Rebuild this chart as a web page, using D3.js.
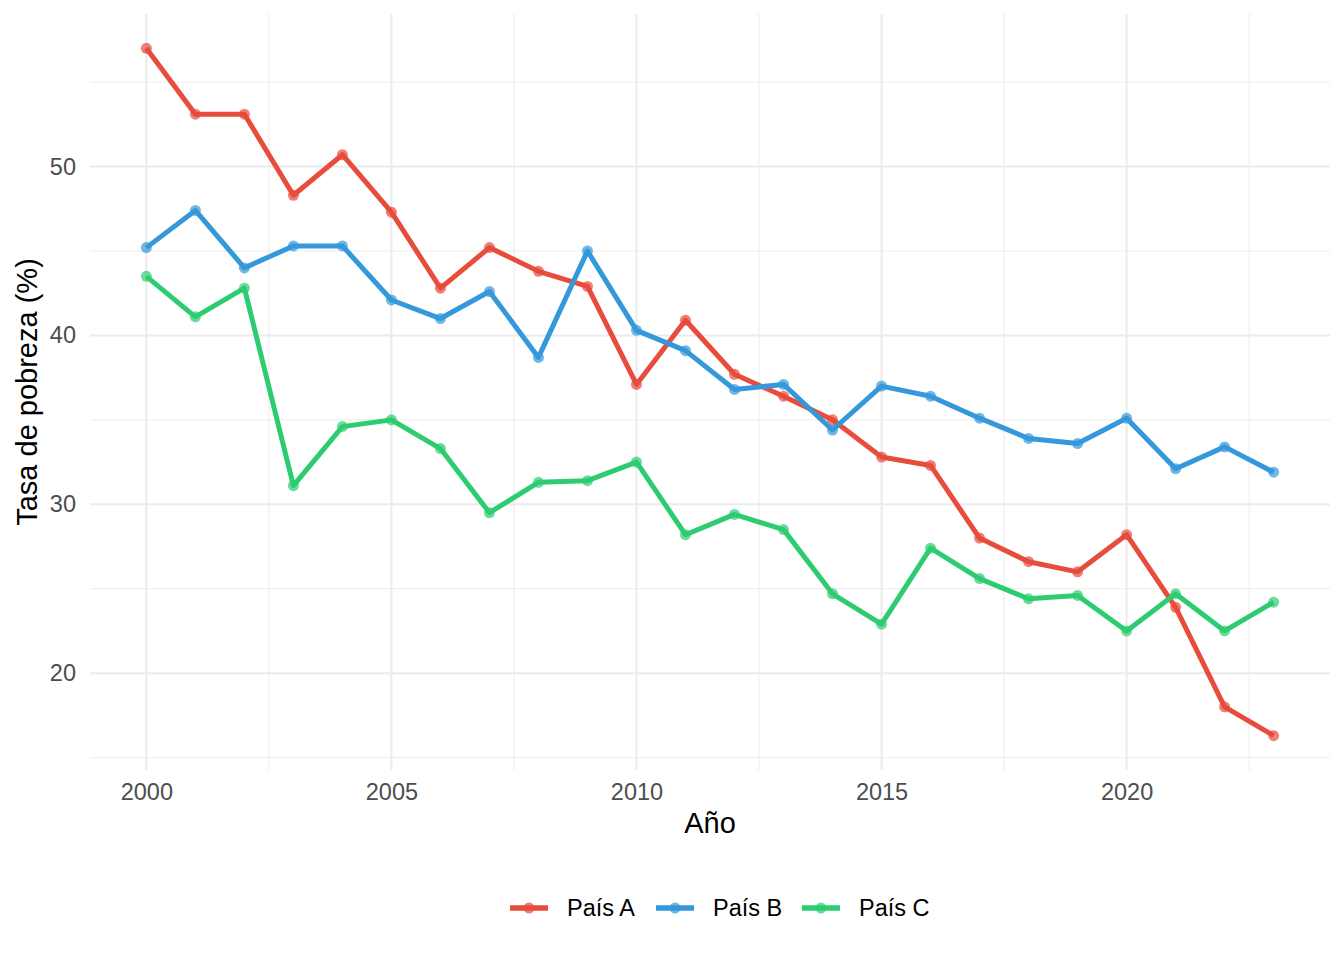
<!DOCTYPE html>
<html>
<head>
<meta charset="utf-8">
<script src="https://cdn.jsdelivr.net/npm/d3@7"></script>
<style>
  body { margin: 0; background: #fff; }
  svg { font-family: "Liberation Sans", Arial, sans-serif; }
</style>
</head>
<body>
<svg id="chart" width="1344" height="960"></svg>
<script>
// chart data
const years = d3.range(2000, 2024);
const paisA = [57.0, 53.1, 53.1, 48.3, 50.7, 47.3, 42.8, 45.2, 43.8, 42.9, 37.1, 40.9,
               37.7, 36.4, 35.0, 32.8, 32.3, 28.0, 26.6, 26.0, 28.2, 23.9, 18.0, 16.3];
const paisB = [45.2, 47.4, 44.0, 45.3, 45.3, 42.1, 41.0, 42.6, 38.7, 45.0, 40.3, 39.1,
               36.8, 37.1, 34.4, 37.0, 36.4, 35.1, 33.9, 33.6, 35.1, 32.1, 33.4, 31.9];
const paisC = [43.5, 41.1, 42.8, 31.1, 34.6, 35.0, 33.3, 29.5, 31.3, 31.4, 32.5, 28.2,
               29.4, 28.5, 24.7, 22.9, 27.4, 25.6, 24.4, 24.6, 22.5, 24.7, 22.5, 24.2];
const seriesNames = ["País A", "País B", "País C"];
const seriesColors = ["#E74C3C", "#3498DB", "#2ECC71"];
const xTicks = [2000, 2005, 2010, 2015, 2020];
const yTicks = [20, 30, 40, 50];

const series = [paisA, paisB, paisC].map((vals, i) => ({
  name: seriesNames[i],
  color: seriesColors[i],
  values: vals.map((v, j) => ({ year: years[j], value: v }))
}));

const svg = d3.select("#chart");

// panel box
const pLeft = 90, pRight = 1330, pTop = 14, pBottom = 770;

// ggplot style 5% expansion
const allVals = [].concat(paisA, paisB, paisC);
const yMin = d3.min(allVals), yMax = d3.max(allVals);
const yPad = (yMax - yMin) * 0.05;
const xPad = (d3.max(years) - d3.min(years)) * 0.05;

const x = d3.scaleLinear()
  .domain([d3.min(years) - xPad, d3.max(years) + xPad])
  .range([pLeft, pRight]);
const y = d3.scaleLinear()
  .domain([yMin - yPad, yMax + yPad])
  .range([pBottom, pTop]);

const grid = svg.append("g");

// minor grid (between major ticks)
const xMinor = [2002.5, 2007.5, 2012.5, 2017.5, 2022.5];
const yMinor = [15, 25, 35, 45, 55];
grid.selectAll(".xminor").data(xMinor).enter().append("line")
  .attr("x1", d => x(d)).attr("x2", d => x(d))
  .attr("y1", pTop).attr("y2", pBottom)
  .attr("stroke", "#EBEBEB").attr("stroke-width", 1);
grid.selectAll(".yminor").data(yMinor.filter(v => y(v) > pTop && y(v) < pBottom)).enter().append("line")
  .attr("x1", pLeft).attr("x2", pRight)
  .attr("y1", d => y(d)).attr("y2", d => y(d))
  .attr("stroke", "#EBEBEB").attr("stroke-width", 1);

// major grid
grid.selectAll(".xmajor").data(xTicks).enter().append("line")
  .attr("x1", d => x(d)).attr("x2", d => x(d))
  .attr("y1", pTop).attr("y2", pBottom)
  .attr("stroke", "#EBEBEB").attr("stroke-width", 2);
grid.selectAll(".ymajor").data(yTicks).enter().append("line")
  .attr("x1", pLeft).attr("x2", pRight)
  .attr("y1", d => y(d)).attr("y2", d => y(d))
  .attr("stroke", "#EBEBEB").attr("stroke-width", 2);

// axes (labels only, no lines)
const xAxis = svg.append("g")
  .attr("transform", `translate(0,${pBottom})`)
  .call(d3.axisBottom(x).tickValues(xTicks).tickFormat(d3.format("d")).tickSize(0).tickPadding(13));
const yAxis = svg.append("g")
  .attr("transform", `translate(${pLeft},0)`)
  .call(d3.axisLeft(y).tickValues(yTicks).tickSize(0).tickPadding(14));
[xAxis, yAxis].forEach(a => {
  a.select(".domain").remove();
  a.selectAll("text")
    .attr("fill", "#4D4D4D")
    .style("font-size", "23.5px")
    .style("font-family", "'Liberation Sans', Arial, sans-serif");
});

// axis titles
svg.append("text")
  .attr("x", (pLeft + pRight) / 2).attr("y", 833)
  .attr("text-anchor", "middle")
  .style("font-size", "29px")
  .text("Año");
svg.append("text")
  .attr("transform", `translate(37,${(pTop + pBottom) / 2}) rotate(-90)`)
  .attr("text-anchor", "middle")
  .style("font-size", "29px")
  .text("Tasa de pobreza (%)");

// lines and points
const line = d3.line().x(d => x(d.year)).y(d => y(d.value));
const gSeries = svg.selectAll(".series").data(series).enter().append("g");
gSeries.append("path")
  .attr("d", d => line(d.values))
  .attr("fill", "none")
  .attr("stroke", d => d.color)
  .attr("stroke-width", 5)
  .attr("stroke-linejoin", "round");
gSeries.each(function (s) {
  d3.select(this).selectAll("circle").data(s.values).enter().append("circle")
    .attr("cx", d => x(d.year))
    .attr("cy", d => y(d.value))
    .attr("r", 5.5)
    .attr("fill", s.color)
    .attr("fill-opacity", 0.7);
});

// legend
const legendX = [510, 656, 802];
const legend = svg.selectAll(".legend").data(series).enter().append("g")
  .attr("transform", (d, i) => `translate(${legendX[i]},908)`);
legend.append("line")
  .attr("x1", 0).attr("x2", 38)
  .attr("stroke", d => d.color).attr("stroke-width", 5.5);
legend.append("circle")
  .attr("cx", 19).attr("r", 5.5)
  .attr("fill", d => d.color).attr("fill-opacity", 0.7);
legend.append("text")
  .attr("x", 57).attr("y", 8)
  .style("font-size", "23.5px")
  .text(d => d.name);
</script>
</body>
</html>
